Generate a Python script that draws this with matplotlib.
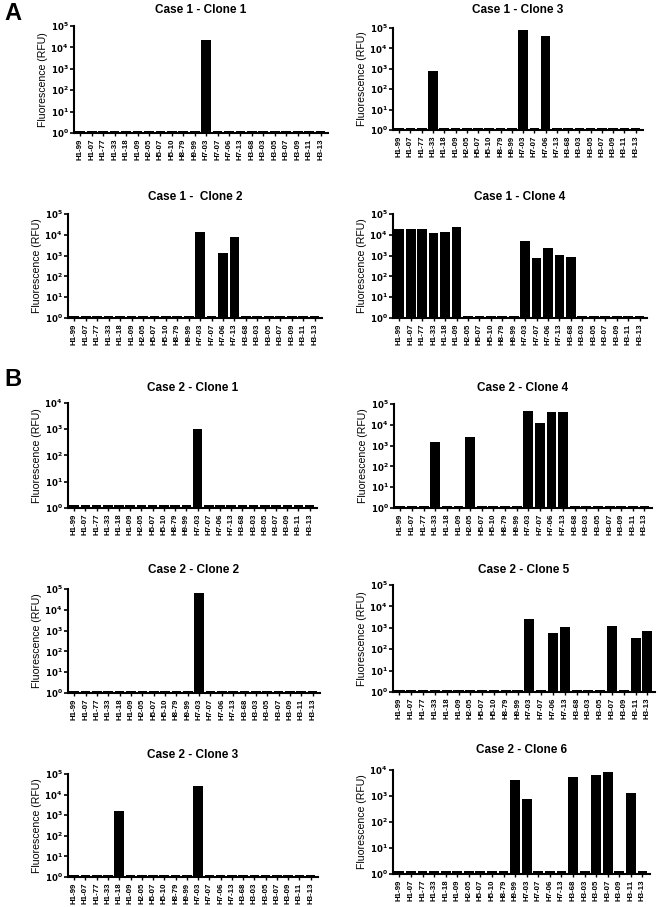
import matplotlib
matplotlib.use('Agg')

import matplotlib.pyplot as plt
from matplotlib.ticker import LogLocator, NullFormatter, FixedLocator

plt.rcParams['font.family'] = ['Liberation Sans', 'DejaVu Sans']

W, H = 658, 907

CATEGORIES = ['H1-99', 'H1-07', 'H1-77', 'H1-33', 'H1-18', 'H1-09', 'H2-05', 'H5-07',
              'H5-10', 'H8-79', 'H9-99', 'H7-03', 'H7-07', 'H7-06', 'H7-13', 'H3-68',
              'H3-03', 'H3-05', 'H3-07', 'H3-09', 'H3-11', 'H3-13']

# values in RFU (1.25 = background level, shown as a flat stub)
case1_clone1 = [1.25, 1.25, 1.25, 1.25, 1.25, 1.25, 1.25, 1.25, 1.25, 1.25, 1.25, 22000,
                1.25, 1.25, 1.25, 1.25, 1.25, 1.25, 1.25, 1.25, 1.25, 1.25]
case1_clone3 = [1.25, 1.25, 1.25, 750, 1.25, 1.25, 1.25, 1.25, 1.25, 1.25, 1.25, 76000,
                1.25, 41000, 1.25, 1.25, 1.25, 1.25, 1.25, 1.25, 1.25, 1.25]
case1_clone2 = [1.25, 1.25, 1.25, 1.25, 1.25, 1.25, 1.25, 1.25, 1.25, 1.25, 1.25, 13000,
                1.25, 1300, 7500, 1.25, 1.25, 1.25, 1.25, 1.25, 1.25, 1.25]
case1_clone4 = [19000, 20000, 20000, 12000, 14000, 24000, 1.25, 1.25, 1.25, 1.25, 1.25, 5200,
                780, 2400, 1100, 900, 1.25, 1.25, 1.25, 1.25, 1.25, 1.25]
case2_clone1 = [1.25, 1.25, 1.25, 1.25, 1.25, 1.25, 1.25, 1.25, 1.25, 1.25, 1.25, 1050,
                1.25, 1.25, 1.25, 1.25, 1.25, 1.25, 1.25, 1.25, 1.25, 1.25]
case2_clone4 = [1.25, 1.25, 1.25, 1450, 1.25, 1.25, 2700, 1.25, 1.25, 1.25, 1.25, 46000,
                12000, 40000, 40000, 1.25, 1.25, 1.25, 1.25, 1.25, 1.25, 1.25]
case2_clone2 = [1.25, 1.25, 1.25, 1.25, 1.25, 1.25, 1.25, 1.25, 1.25, 1.25, 1.25, 66000,
                1.25, 1.25, 1.25, 1.25, 1.25, 1.25, 1.25, 1.25, 1.25, 1.25]
case2_clone5 = [1.25, 1.25, 1.25, 1.25, 1.25, 1.25, 1.25, 1.25, 1.25, 1.25, 1.25, 2600,
                1.25, 580, 1070, 1.25, 1.25, 1.25, 1200, 1.25, 330, 690]
case2_clone3 = [1.25, 1.25, 1.25, 1.25, 1600, 1.25, 1.25, 1.25, 1.25, 1.25, 1.25, 25000,
                1.25, 1.25, 1.25, 1.25, 1.25, 1.25, 1.25, 1.25, 1.25, 1.25]
case2_clone6 = [1.25, 1.25, 1.25, 1.25, 1.25, 1.25, 1.25, 1.25, 1.25, 1.25, 4000, 750,
                1.25, 1.25, 1.25, 5200, 1.25, 6500, 8200, 1.25, 1260, 1.25]

# title, values, y max exponent, axes box in pixels (left, top, right, bottom), title y
PANELS = [
  ('Case 1 - Clone 1', case1_clone1, 5, (74, 26, 328, 133), 10),
  ('Case 1 - Clone 3', case1_clone3, 5, (393, 28, 643, 130), 10),
  ('Case 1 -  Clone 2', case1_clone2, 5, (68, 214, 322, 318), 197),
  ('Case 1 - Clone 4', case1_clone4, 5, (393, 214, 647, 318), 197),
  ('Case 2 - Clone 1', case2_clone1, 4, (68, 403, 317, 508), 388),
  ('Case 2 - Clone 4', case2_clone4, 5, (394, 404, 652, 508), 388),
  ('Case 2 - Clone 2', case2_clone2, 5, (68, 589, 320, 693), 570),
  ('Case 2 - Clone 5', case2_clone5, 5, (393, 585, 655, 692), 570),
  ('Case 2 - Clone 3', case2_clone3, 5, (68, 774, 318, 877), 755),
  ('Case 2 - Clone 6', case2_clone6, 4, (393, 770, 650, 874), 750),
]

fig = plt.figure(figsize = (W / 100., H / 100.), dpi = 100)

for title, values, ymax_exp, box, title_y in PANELS:
  left, top, right, bottom = box
  ax = fig.add_axes([left / W, 1 - bottom / H, (right - left) / W, (bottom - top) / H])
  ax.bar(range(len(CATEGORIES)), values, width = 0.85, color = 'black', log = True)
  ax.set_ylim(1, 10 ** ymax_exp)
  ax.set_xlim(-0.55, len(CATEGORIES) - 0.35)
  ax.yaxis.set_major_locator(FixedLocator([10 ** e for e in range(ymax_exp + 1)]))
  ax.set_yticklabels([r'$\mathbf{10^{%d}}$' % e for e in range(ymax_exp + 1)], fontsize = 6.2)
  ax.yaxis.set_minor_locator(LogLocator(base = 10, subs = range(2, 10)))
  ax.yaxis.set_minor_formatter(NullFormatter())
  ax.set_xticks(range(len(CATEGORIES)))
  ax.set_xticklabels(CATEGORIES, rotation = 90, fontsize = 5.7, fontweight = 'bold')
  for side in ['top', 'right']:
    ax.spines[side].set_visible(False)
  for side in ['left', 'bottom']:
    ax.spines[side].set_linewidth(1.5)
  ax.tick_params(axis = 'y', which = 'major', length = 3, width = 1.2, pad = 1)
  ax.tick_params(axis = 'y', which = 'minor', length = 2, width = 0.8)
  ax.tick_params(axis = 'x', length = 2.5, width = 1.0, pad = 1.5)
  ax.set_ylabel('Fluorescence (RFU)', fontsize = 7.6, labelpad = 2)
  fig.text((left + right) / 2. / W, 1 - title_y / H, title, ha = 'center', va = 'center',
           fontsize = 8.5, fontweight = 'bold')

fig.text(4 / W, 1 - 14 / H, 'A', fontsize = 17, fontweight = 'bold', va = 'center')
fig.text(4 / W, 1 - 380 / H, 'B', fontsize = 17, fontweight = 'bold', va = 'center')

fig.savefig('out.png', dpi = 100)
